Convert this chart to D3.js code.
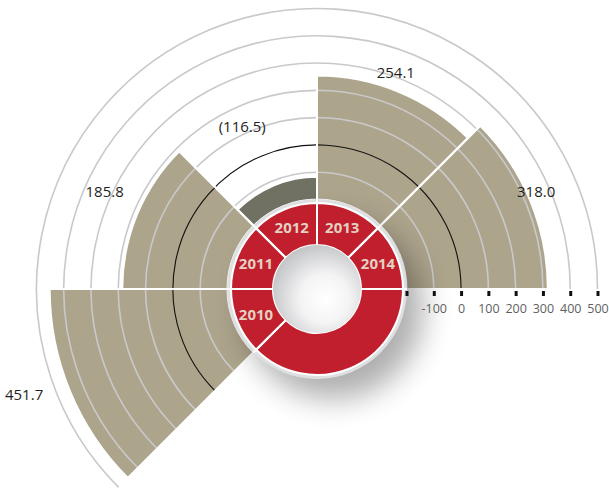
<!DOCTYPE html>
<html>
<head>
<meta charset="utf-8">
<script src="https://cdn.jsdelivr.net/npm/d3@7"></script>
<style>
  body { margin: 0; background: #fff; }
  svg { display: block; }
</style>
</head>
<body>
<div id="chart"></div>
<script>
// data
var years = ["2010", "2011", "2012", "2013", "2014"];
var values = [451.7, 185.8, -116.5, 254.1, 318.0];
var valueLabels = ["451.7", "185.8", "(116.5)", "254.1", "318.0"];
var tickValues = [-200, -100, 0, 100, 200, 300, 400, 500];

var width = 609, height = 489,
    cx = 317, cy = 289,
    holeR = 44, donutR = 86;

// layout only: how far each value label sits past its bar, and a small angle nudge (deg)
var labelGap = [44, 39, 35, 17, 9];
var labelTurn = [2.7, 2.2, -2.2, -2.5, -1.5];

var tan = "#ada48c", darkBar = "#707163", red = "#c11f2e";

var svg = d3.select("#chart").append("svg")
    .attr("width", width)
    .attr("height", height);

var defs = svg.append("defs");
var shadow = defs.append("filter").attr("id", "shadow")
    .attr("x", "-60%").attr("y", "-60%").attr("width", "220%").attr("height", "220%");
shadow.append("feGaussianBlur").attr("in", "SourceAlpha").attr("stdDeviation", 15).attr("result", "blur");
shadow.append("feOffset").attr("in", "blur").attr("dx", 16).attr("dy", 20).attr("result", "off");
shadow.append("feComponentTransfer").attr("in", "off").append("feFuncA").attr("type", "linear").attr("slope", 0.32);

var holeGrad = defs.append("radialGradient").attr("id", "hole")
    .attr("cx", "58%").attr("cy", "60%").attr("r", "62%")
    .attr("fx", "60%").attr("fy", "62%");
holeGrad.append("stop").attr("offset", "0%").attr("stop-color", "#ffffff");
holeGrad.append("stop").attr("offset", "45%").attr("stop-color", "#f4f4f5");
holeGrad.append("stop").attr("offset", "100%").attr("stop-color", "#c3c4c6");

var step = Math.PI / 4;
var startA = -3 * Math.PI / 4;          // bottom-left, going clockwise
var endA = startA + years.length * step; // pointing right

// radial scale
var r = d3.scaleLinear().domain([-200, 500]).range([89.5, 280.5]);

var g = svg.append("g").attr("transform", "translate(" + cx + "," + cy + ")");

// bars
var barArc = d3.arc()
    .innerRadius(r(-200))
    .outerRadius(function (d) { return r(d); })
    .startAngle(function (d, i) { return startA + i * step; })
    .endAngle(function (d, i) { return startA + (i + 1) * step; });

g.selectAll(".bar")
    .data(values)
    .enter()
    .append("path")
    .attr("class", "bar")
    .attr("d", barArc)
    .attr("fill", function (d) { return d < 0 ? darkBar : tan; })
    .attr("stroke", "#fff")
    .attr("stroke-width", 2);

// grid rings
var ringArc = d3.arc()
    .innerRadius(function (d) { return r(d); })
    .outerRadius(function (d) { return r(d); })
    .startAngle(startA)
    .endAngle(endA);

g.selectAll(".ring")
    .data(tickValues.filter(function (d) { return d > -200; }))
    .enter()
    .append("path")
    .attr("class", "ring")
    .attr("d", ringArc)
    .attr("fill", "none")
    .attr("stroke", function (d) { return d === 0 ? "#111" : "#c9c9cb"; })
    .attr("stroke-width", function (d) { return d === 0 ? 1.1 : 1.6; });

// redraw white separators on top of the rings
g.selectAll(".sep")
    .data(d3.range(years.length + 1))
    .enter()
    .append("line")
    .attr("x1", function (i) { return r(-200) * Math.sin(startA + i * step); })
    .attr("y1", function (i) { return -r(-200) * Math.cos(startA + i * step); })
    .attr("x2", function (i) {
        var v = Math.max(values[i] || -200, values[i - 1] || -200);
        return r(v) * Math.sin(startA + i * step);
    })
    .attr("y2", function (i) {
        var v = Math.max(values[i] || -200, values[i - 1] || -200);
        return -r(v) * Math.cos(startA + i * step);
    })
    .attr("stroke", "#fff")
    .attr("stroke-width", 2);

// donut shadow + outer ring
g.append("circle").attr("r", donutR + 4).attr("fill", "#777").attr("filter", "url(#shadow)");
g.append("circle").attr("r", donutR + 4).attr("fill", "#dedfe1");

// donut slices
var slices = years.map(function (y, i) {
    return {label: y, start: startA + i * step, end: startA + (i + 1) * step};
});
slices.push({label: "", start: endA, end: startA + 2 * Math.PI});

var donutArc = d3.arc()
    .innerRadius(holeR)
    .outerRadius(donutR)
    .startAngle(function (d) { return d.start; })
    .endAngle(function (d) { return d.end; });

g.selectAll(".slice")
    .data(slices)
    .enter()
    .append("path")
    .attr("class", "slice")
    .attr("d", donutArc)
    .attr("fill", red)
    .attr("stroke", "#fff")
    .attr("stroke-width", 2);

// white spokes through the ring at every slice border
g.selectAll(".spoke")
    .data(slices)
    .enter()
    .append("line")
    .attr("x1", function (d) { return holeR * Math.sin(d.start); })
    .attr("y1", function (d) { return -holeR * Math.cos(d.start); })
    .attr("x2", function (d) { return (donutR + 4) * Math.sin(d.start); })
    .attr("y2", function (d) { return -(donutR + 4) * Math.cos(d.start); })
    .attr("stroke", "#fff")
    .attr("stroke-width", 2);

g.append("circle").attr("r", holeR).attr("fill", "url(#hole)");

g.selectAll(".year")
    .data(slices.filter(function (d) { return d.label; }))
    .enter()
    .append("text")
    .attr("class", "year")
    .attr("transform", function (d) {
        var a = (d.start + d.end) / 2, rr = (holeR + donutR) / 2 + 1;
        return "translate(" + (rr * Math.sin(a)) + "," + (-rr * Math.cos(a)) + ")";
    })
    .attr("text-anchor", "middle")
    .attr("dy", "0.36em")
    .style("font-family", "'Open Sans', sans-serif")
    .style("font-weight", "bold")
    .style("font-size", "15px")
    .attr("fill", "#e4d1c2")
    .text(function (d) { return d.label; });

// value labels
g.selectAll(".value")
    .data(values)
    .enter()
    .append("text")
    .attr("class", "value")
    .attr("transform", function (d, i) {
        var a = startA + (i + 0.5) * step + labelTurn[i] * Math.PI / 180,
            rr = r(Math.max(d, 0)) + labelGap[i];
        return "translate(" + (rr * Math.sin(a)) + "," + (-rr * Math.cos(a)) + ")";
    })
    .attr("text-anchor", "middle")
    .attr("dy", "0.36em")
    .style("font-family", "'Open Sans', sans-serif")
    .style("font-size", "15px")
    .attr("fill", "#231f20")
    .text(function (d, i) { return valueLabels[i]; });

// radial axis along the right horizontal
var axisScale = d3.scaleLinear()
    .domain(r.domain())
    .range(r.range().map(function (d) { return cx + d; }));

var axis = svg.append("g")
    .attr("transform", "translate(0," + (cy + 2) + ")")
    .call(d3.axisBottom(axisScale)
        .tickValues(tickValues)
        .tickSize(5)
        .tickPadding(8)
        .tickFormat(function (d) { return d === -200 ? "" : d; }));

axis.select(".domain").remove();
axis.selectAll(".tick line").attr("stroke", "#111").attr("stroke-width", 3);
axis.selectAll(".tick text")
    .style("font-family", "'Open Sans', sans-serif")
    .style("font-size", "12.5px")
    .attr("fill", "#5e5f61");
</script>
</body>
</html>
